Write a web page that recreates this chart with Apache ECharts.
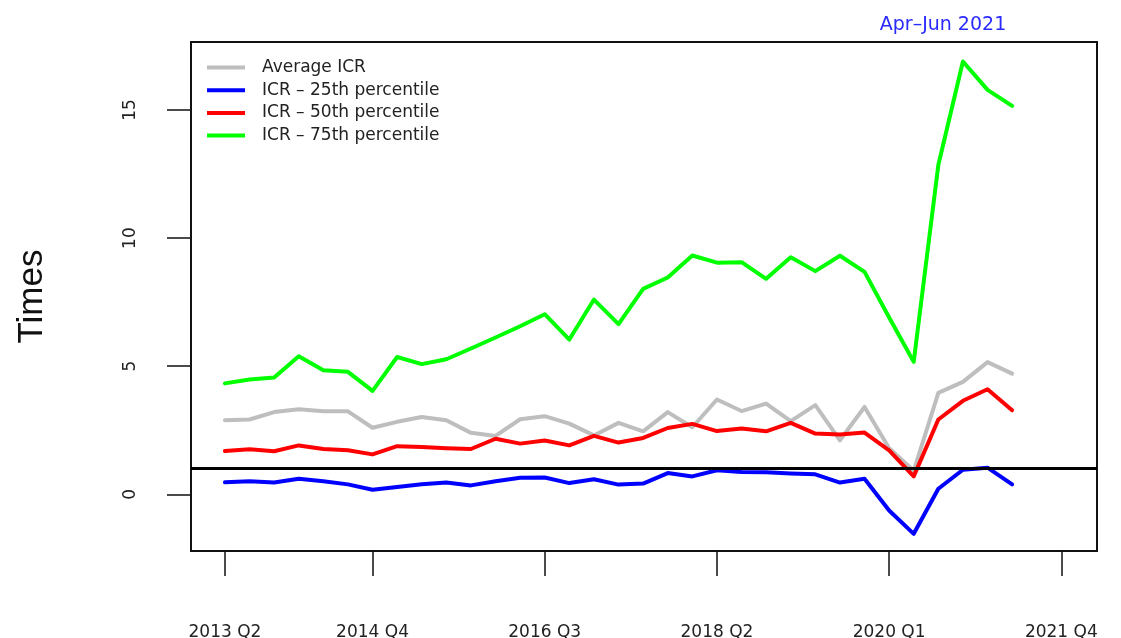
<!DOCTYPE html>
<html>
<head>
<meta charset="utf-8">
<script src="https://cdn.jsdelivr.net/npm/echarts@6/dist/echarts.min.js"></script>
<style>
html, body { margin: 0; padding: 0; background: #fff; }
#chart { width: 1121px; height: 638px; }
</style>
</head>
<body>
<div id="chart"></div>
<script>
// quarters on the x axis (the data runs to 2021 Q2, the axis to 2021 Q4)
var quarters = ['2013 Q2', '2013 Q3', '2013 Q4',
    '2014 Q1', '2014 Q2', '2014 Q3', '2014 Q4',
    '2015 Q1', '2015 Q2', '2015 Q3', '2015 Q4',
    '2016 Q1', '2016 Q2', '2016 Q3', '2016 Q4',
    '2017 Q1', '2017 Q2', '2017 Q3', '2017 Q4',
    '2018 Q1', '2018 Q2', '2018 Q3', '2018 Q4',
    '2019 Q1', '2019 Q2', '2019 Q3', '2019 Q4',
    '2020 Q1', '2020 Q2', '2020 Q3', '2020 Q4',
    '2021 Q1', '2021 Q2', '2021 Q3', '2021 Q4'];
var xTickLabels = ['2013 Q2', '2014 Q4', '2016 Q3', '2018 Q2', '2020 Q1', '2021 Q4'];
var yTicks = [0, 5, 10, 15];

var avgICR = [2.89, 2.92, 3.21, 3.32, 3.24, 3.24, 2.60, 2.83, 3.02, 2.89,
    2.40, 2.28, 2.93, 3.05, 2.76, 2.30, 2.79, 2.46, 3.21, 2.62,
    3.70, 3.25, 3.54, 2.86, 3.48, 2.11, 3.41, 1.80, 0.92, 3.96, 4.39, 5.16, 4.71];
var icr25 = [0.47, 0.51, 0.46, 0.61, 0.51, 0.39, 0.18, 0.29, 0.39, 0.46,
    0.35, 0.51, 0.65, 0.66, 0.44, 0.59, 0.38, 0.42, 0.83, 0.70,
    0.94, 0.87, 0.86, 0.81, 0.78, 0.46, 0.61, -0.63, -1.54, 0.22, 0.96, 1.04, 0.39];
var icr50 = [1.69, 1.76, 1.68, 1.91, 1.77, 1.72, 1.56, 1.88, 1.85, 1.80,
    1.77, 2.17, 1.98, 2.10, 1.91, 2.28, 2.02, 2.20, 2.59, 2.75,
    2.47, 2.57, 2.46, 2.79, 2.37, 2.34, 2.41, 1.72, 0.70, 2.92, 3.65, 4.10, 3.28];
var icr75 = [4.33, 4.48, 4.56, 5.39, 4.84, 4.78, 4.04, 5.36, 5.08, 5.27,
    5.69, 6.12, 6.56, 7.03, 6.04, 7.60, 6.64, 8.02, 8.46, 9.32,
    9.04, 9.06, 8.41, 9.25, 8.71, 9.31, 8.68, 6.90, 5.17, 12.85, 16.89, 15.78, 15.16];
var refLine = 1;

var font = "'DejaVu Sans', sans-serif";
var xTickPos = xTickLabels.map(function (q) { return quarters.indexOf(q); });

function toPoints(arr) {
    return arr.map(function (v, i) { return [i, v]; });
}

function lineSeries(name, data, color) {
    return {
        name: name,
        type: 'line',
        data: toPoints(data),
        symbol: 'none',
        showSymbol: false,
        lineStyle: { color: color, width: 4, join: 'round', cap: 'round' },
        itemStyle: { color: color }
    };
}

var chart = echarts.init(document.getElementById('chart'));

var series = [
    lineSeries('Average ICR', avgICR, '#bebebe'),
    lineSeries('ICR \u2013 25th percentile', icr25, '#0000ff'),
    lineSeries('ICR \u2013 50th percentile', icr50, '#ff0000'),
    lineSeries('ICR \u2013 75th percentile', icr75, '#00ff00')
];
series[3].markLine = {
    silent: true,
    symbol: 'none',
    label: { show: false },
    lineStyle: { color: '#000', width: 3, type: 'solid' },
    data: [{ yAxis: refLine }]
};

var option = {
    animation: false,
    backgroundColor: '#fff',
    grid: {
        left: 191,
        top: 42,
        width: 906,
        height: 509,
        outerBoundsMode: 'none',
        containLabel: false,
        show: true,
        borderColor: '#111',
        borderWidth: 2
    },
    legend: {
        orient: 'vertical',
        left: 202,
        top: 54,
        icon: 'rect',
        itemWidth: 38,
        itemHeight: 4,
        itemGap: 5.7,
        textStyle: {
            fontFamily: font,
            fontSize: 17,
            color: '#222',
            padding: [0, 0, 0, 12]
        },
        data: series.map(function (s) { return s.name; })
    },
    graphic: [{
        type: 'text',
        x: 943,
        y: 25,
        style: {
            text: 'Apr\u2013Jun 2021',
            fill: '#2a2aff',
            font: "19px 'DejaVu Sans', sans-serif",
            textAlign: 'center',
            textVerticalAlign: 'middle'
        }
    }],
    xAxis: {
        type: 'value',
        min: -1.38,
        max: 35.45,
        axisLine: { show: false, onZero: false },
        splitLine: { show: false },
        axisTick: {
            show: true,
            customValues: xTickPos,
            length: 25,
            lineStyle: { color: '#111', width: 1.5 }
        },
        axisLabel: {
            customValues: xTickPos,
            margin: 73,
            fontFamily: font,
            fontSize: 17,
            color: '#222',
            formatter: function (v) { return quarters[Math.round(v)]; }
        }
    },
    yAxis: {
        type: 'value',
        min: -2.21,
        max: 17.65,
        name: 'Times',
        nameLocation: 'middle',
        nameRotate: 90,
        nameGap: 141,
        nameTextStyle: { fontFamily: "'Liberation Sans', sans-serif", fontSize: 35, color: '#111' },
        axisLine: { show: false, onZero: false },
        splitLine: { show: false },
        axisTick: {
            show: true,
            customValues: yTicks,
            length: 24,
            lineStyle: { color: '#111', width: 1.5 }
        },
        axisLabel: {
            customValues: yTicks,
            rotate: 90,
            margin: 52,
            fontFamily: font,
            fontSize: 17,
            color: '#222'
        }
    },
    series: series
};

chart.setOption(option);
</script>
</body>
</html>
